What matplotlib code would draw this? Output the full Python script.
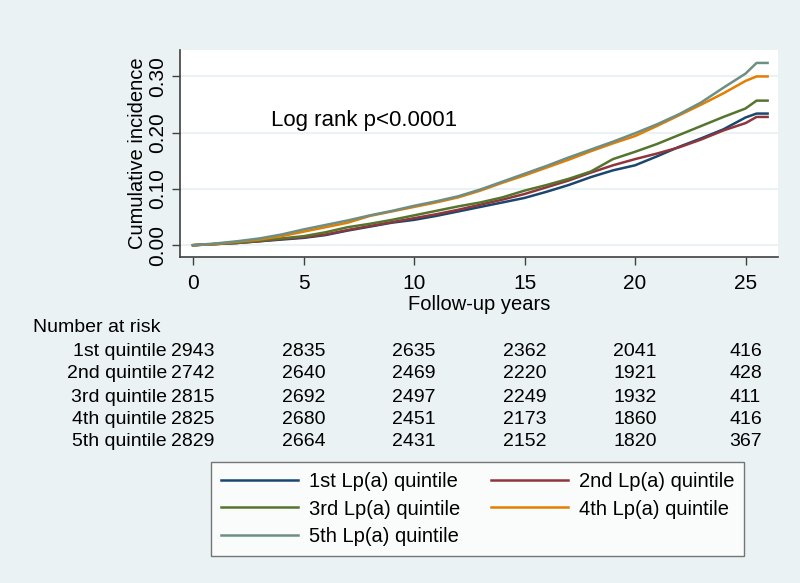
import matplotlib
matplotlib.use("Agg")
import matplotlib.pyplot as plt
import matplotlib.transforms as mtransforms

plt.rcParams['font.family'] = ['Liberation Sans', 'DejaVu Sans']

years = [0, 1, 2, 3, 4, 5, 6, 7, 8, 9, 10, 11, 12, 13, 14, 15, 16, 17, 18, 19, 20, 21, 22, 23, 24, 25, 25.5, 26]

q1 = [0, 0.002, 0.004, 0.007, 0.010, 0.013, 0.018, 0.026, 0.033, 0.040, 0.045, 0.052, 0.060, 0.068, 0.076, 0.084,
      0.095, 0.107, 0.121, 0.133, 0.142, 0.158, 0.175, 0.190, 0.206, 0.227, 0.234, 0.234]
q2 = [0, 0.002, 0.004, 0.007, 0.011, 0.014, 0.019, 0.027, 0.034, 0.041, 0.048, 0.055, 0.063, 0.072, 0.081, 0.091,
      0.103, 0.115, 0.129, 0.142, 0.153, 0.163, 0.174, 0.188, 0.204, 0.217, 0.228, 0.228]
q3 = [0, 0.002, 0.004, 0.008, 0.012, 0.016, 0.023, 0.032, 0.038, 0.045, 0.053, 0.061, 0.069, 0.076, 0.085, 0.097,
      0.107, 0.118, 0.131, 0.153, 0.166, 0.180, 0.196, 0.212, 0.228, 0.243, 0.257, 0.257]
q4 = [0, 0.002, 0.006, 0.010, 0.016, 0.024, 0.032, 0.040, 0.052, 0.060, 0.068, 0.076, 0.085, 0.097, 0.111, 0.124,
      0.138, 0.152, 0.167, 0.181, 0.194, 0.212, 0.231, 0.250, 0.270, 0.292, 0.300, 0.300]
q5 = [0, 0.003, 0.007, 0.012, 0.019, 0.028, 0.036, 0.044, 0.053, 0.061, 0.070, 0.078, 0.087, 0.099, 0.113, 0.127,
      0.141, 0.156, 0.170, 0.184, 0.199, 0.215, 0.233, 0.254, 0.280, 0.305, 0.324, 0.324]

series_labels = ["1st Lp(a) quintile", "2nd Lp(a) quintile", "3rd Lp(a) quintile",
                 "4th Lp(a) quintile", "5th Lp(a) quintile"]
series_colors = ["#1A476F", "#90353B", "#55752F", "#E37E00", "#6E8E84"]

xticks = [0, 5, 10, 15, 20, 25]
yticks = [0.0, 0.1, 0.2, 0.3]
ytick_labels = ["0.00", "0.10", "0.20", "0.30"]

risk_rows = ["1st quintile", "2nd quintile", "3rd quintile", "4th quintile", "5th quintile"]
risk_counts = [
    [2943, 2835, 2635, 2362, 2041, 416],
    [2742, 2640, 2469, 2220, 1921, 428],
    [2815, 2692, 2497, 2249, 1932, 411],
    [2825, 2680, 2451, 2173, 1860, 416],
    [2829, 2664, 2431, 2152, 1820, 367],
]

BG = "#EAF2F3"
AXC = "#404040"
W, H = 800, 583
fig = plt.figure(figsize=(8, 5.83), dpi=100, facecolor=BG)
ax = fig.add_axes([180 / W, 1 - 257 / H, (778 - 180) / W, (257 - 50) / H])
ax.set_facecolor("white")

handles = []
for ys, lab, col in zip([q1, q2, q3, q4, q5], series_labels, series_colors):
    h, = ax.plot(years, ys, color=col, lw=1.8, label=lab)
    handles.append(h)

ax.set_xlim(-0.59, 26.47)
ax.set_ylim(-0.021, 0.347)
ax.set_xticks(xticks)
ax.set_yticks(yticks)
ax.set_yticklabels(ytick_labels, rotation=90, va="center")
ax.tick_params(axis="both", labelsize=15, length=6, width=1, color=AXC, direction="out")
ax.tick_params(axis="y", pad=3)
ax.tick_params(axis="x", pad=6)
ax.grid(axis="y", color=BG, lw=1.5)
ax.set_axisbelow(True)
for s in ["top", "right"]:
    ax.spines[s].set_visible(False)
for s in ["left", "bottom"]:
    ax.spines[s].set_color(AXC)
    ax.spines[s].set_linewidth(1.2)

ax.set_xlabel("Follow-up years", fontsize=14.5, labelpad=2)
ax.set_ylabel("Cumulative incidence", fontsize=14.5, labelpad=1)

ax.text(3.53, 0.221, "Log rank p<0.0001", fontsize=16, va="center", ha="left")

# Number at risk table
fs_t = 14
blend = mtransforms.blended_transform_factory(ax.transData, fig.transFigure)
fig.text(33 / W, 1 - 327 / H, "Number at risk", fontsize=fs_t, ha="left", va="center")
row_y = [352, 374, 397, 419, 441]
for ry, name, counts in zip(row_y, risk_rows, risk_counts):
    fig.text(167 / W, 1 - ry / H, name, fontsize=fs_t, ha="right", va="center")
    for xv, c in zip(xticks, counts):
        ax.text(xv, 1 - ry / H, str(c), fontsize=fs_t, ha="center", va="center",
                transform=blend, clip_on=False)

order = [0, 2, 4, 1, 3]
leg = fig.legend(handles=[handles[i] for i in order], labels=[series_labels[i] for i in order],
                 ncol=2, loc="upper left",
                 bbox_to_anchor=(211 / W, 1 - 462 / H), fontsize=14.5,
                 frameon=True, fancybox=False, edgecolor="#555555", facecolor="white",
                 handlelength=3.8, handletextpad=0.55, columnspacing=1.55, labelspacing=0.42,
                 borderpad=0.5, borderaxespad=0)
leg.get_frame().set_linewidth(1.0)
for lh in leg.get_lines():
    lh.set_linewidth(1.8)

fig.savefig("out.png", dpi=100, facecolor=BG)
